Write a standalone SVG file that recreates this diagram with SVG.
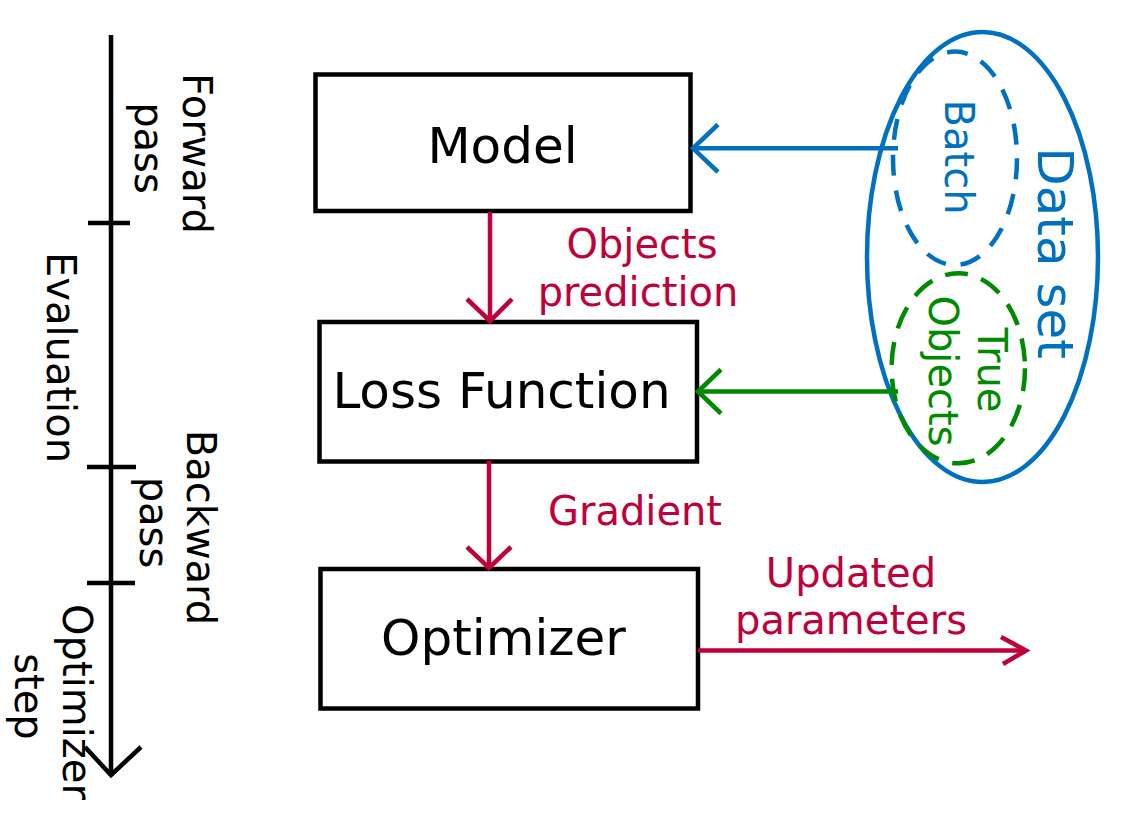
<svg xmlns="http://www.w3.org/2000/svg" width="1140" height="834" viewBox="0 0 1140 834">
<style>
text{font-family:"DejaVu Sans","Liberation Sans",sans-serif;}
.box{fill:#ffffff;stroke:#000000;stroke-width:4.5;}
.big{font-size:50px;fill:#000000;text-anchor:middle;}
.lbl{font-size:40px;text-anchor:middle;}
.blk{fill:#000000;}
.red{fill:#c0003a;}
.blu{fill:#0070c0;}
.grn{fill:#008a00;}
.ax{stroke:#000000;stroke-width:4.5;fill:none;}
.rl{stroke:#c0003a;stroke-width:4.5;fill:none;}
.bl{stroke:#0070c0;stroke-width:4.5;fill:none;}
.gl{stroke:#008a00;stroke-width:4.5;fill:none;}
</style>
<rect width="1140" height="834" fill="#ffffff"/>

<g id="timeline">
<line class="ax" x1="111" y1="35" x2="111" y2="776"/>
<polyline class="ax" points="85,747 111,775 141,747"/>
<line class="ax" x1="88" y1="223" x2="130" y2="223"/>
<line class="ax" x1="87" y1="467" x2="136" y2="467"/>
<line class="ax" x1="87" y1="583" x2="135" y2="583"/>
<text class="lbl blk" transform="translate(183,153.5) rotate(90)">Forward</text>
<text class="lbl blk" transform="translate(135,148) rotate(90)">pass</text>
<text class="lbl blk" transform="translate(47,357.5) rotate(90)">Evaluation</text>
<text class="lbl blk" transform="translate(187,527.5) rotate(90)">Backward</text>
<text class="lbl blk" transform="translate(140,522.5) rotate(90)">pass</text>
<text class="lbl blk" transform="translate(62.5,702) rotate(90)">Optimizer</text>
<text class="lbl blk" transform="translate(14.5,696.5) rotate(90)">step</text>
</g>

<g id="dataset">
<ellipse cx="982.5" cy="257" rx="115.5" ry="225" fill="none" stroke="#0070c0" stroke-width="4.5"/>
<text class="blu" font-size="50" text-anchor="middle" transform="translate(1038,253) rotate(90)">Data set</text>
</g>
<g id="batch">
<ellipse cx="955" cy="158.3" rx="62" ry="106.7" fill="none" stroke="#0070c0" stroke-width="4.5" stroke-dasharray="21,15"/>
<text class="lbl blu" transform="translate(945,157) rotate(90)">Batch</text>
</g>
<g id="true-objects">
<ellipse cx="958.3" cy="368.3" rx="66.7" ry="95" fill="none" stroke="#008a00" stroke-width="4.5" stroke-dasharray="23,14"/>
<text class="lbl grn" transform="translate(978,370) rotate(90)">True</text>
<text class="lbl grn" transform="translate(929,371) rotate(90)">Objects</text>
</g>

<g id="model">
<rect class="box" x="315.5" y="74.5" width="375" height="136.5"/>
<text class="big" x="502.5" y="162.5">Model</text>
</g>
<g id="loss">
<rect class="box" x="319.5" y="322" width="377.5" height="139.5"/>
<text class="big" x="501.5" y="408">Loss Function</text>
</g>
<g id="optimizer">
<rect class="box" x="320.5" y="569" width="377.5" height="139.5"/>
<text class="big" x="503.5" y="654.5">Optimizer</text>
</g>

<g id="connectors">
<line class="rl" x1="490" y1="212" x2="490" y2="321"/>
<polyline class="rl" points="467,299 490,321 512,299"/>
<text class="lbl red" x="642" y="258">Objects</text>
<text class="lbl red" x="638" y="306">prediction</text>

<line class="rl" x1="489" y1="461" x2="489" y2="568"/>
<polyline class="rl" points="467,547 489,568 511,547"/>
<text class="lbl red" x="635" y="525">Gradient</text>

<line class="rl" x1="698" y1="650.5" x2="1026" y2="650.5"/>
<polyline class="rl" points="1001,637 1026,650.5 1003,664"/>
<text class="lbl red" x="851" y="587">Updated</text>
<text class="lbl red" x="851" y="634">parameters</text>

<line class="bl" x1="898" y1="148.3" x2="693" y2="148.3"/>
<polyline class="bl" points="718,124.5 693,148.3 718,172"/>

<line class="gl" x1="898" y1="391.5" x2="698" y2="391.5"/>
<polyline class="gl" points="721,369.5 698,391.5 721,413.5"/>
</g>
</svg>
